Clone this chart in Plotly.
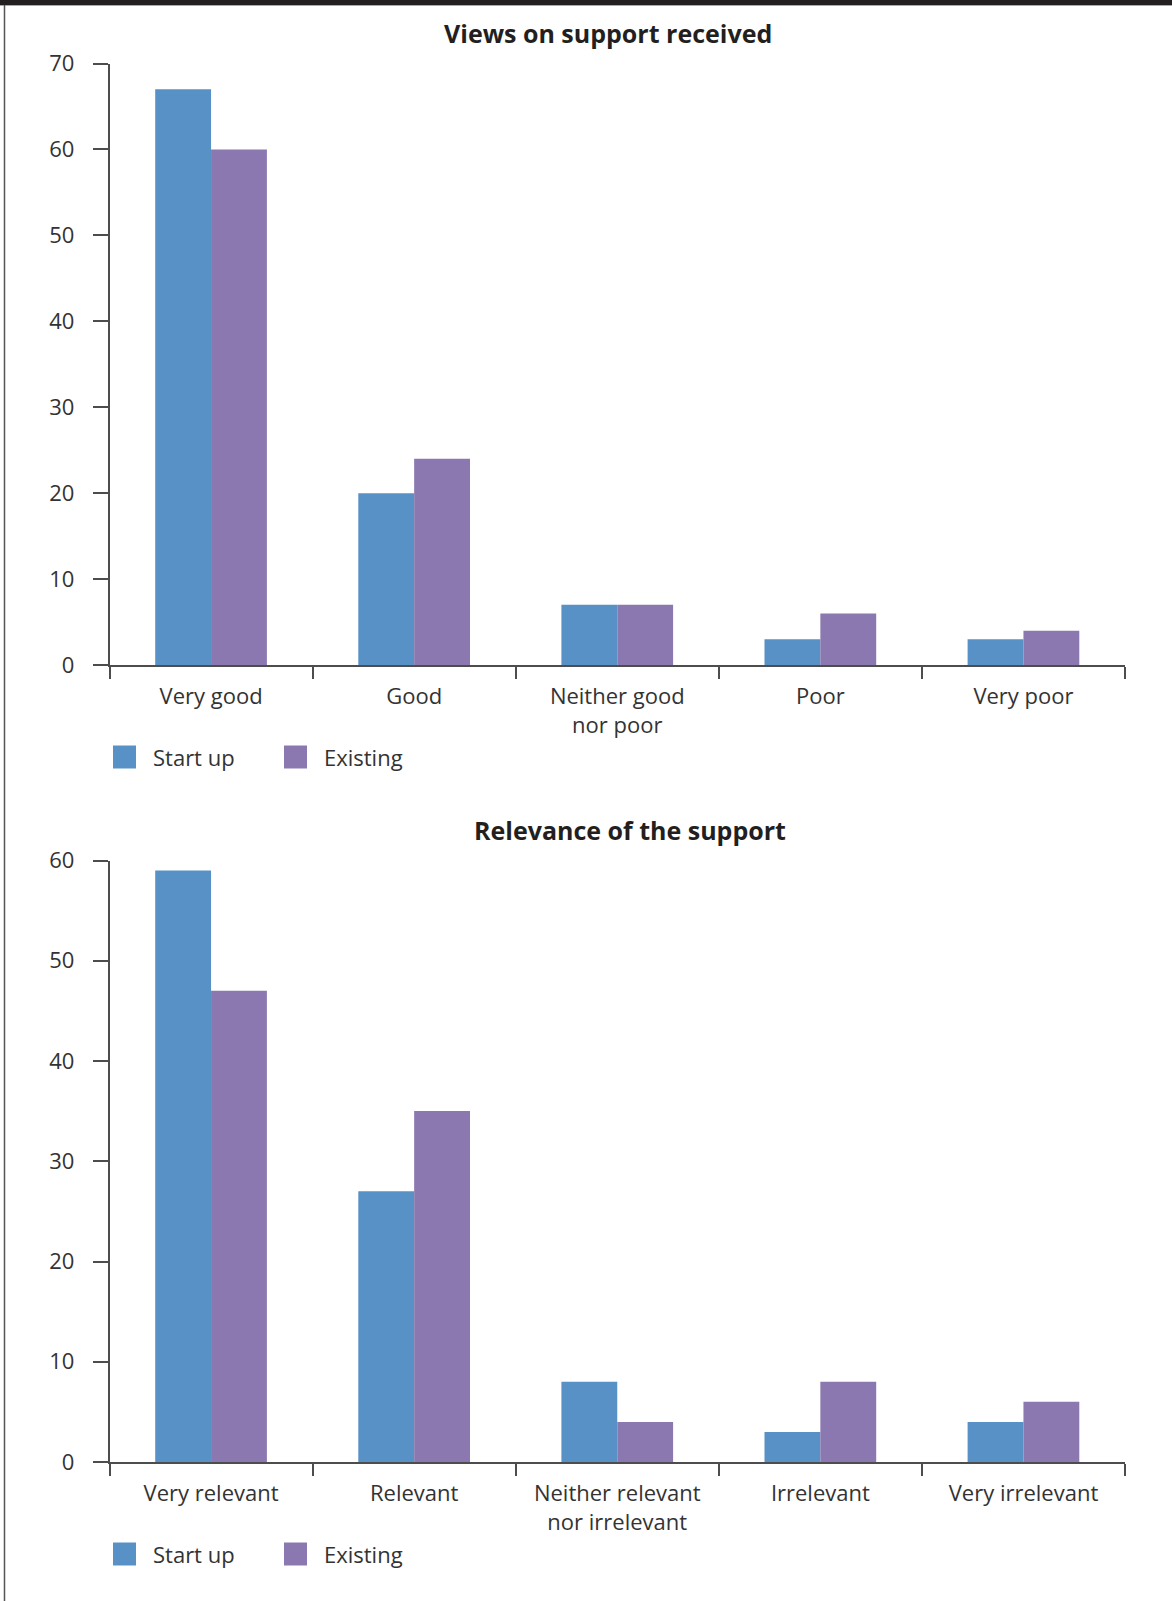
import plotly.graph_objects as go

W, H = 1172, 1601

series_names = ["Start up", "Existing"]
colors = ["#5891C6", "#8B78B0"]

title_top = "Views on support received"
cats_top = ["Very good", "Good", "Neither good<br>nor poor", "Poor", "Very poor"]
startup_top = [67, 20, 7, 3, 3]
existing_top = [60, 24, 7, 6, 4]

title_bot = "Relevance of the support"
cats_bot = ["Very relevant", "Relevant", "Neither relevant<br>nor irrelevant", "Irrelevant", "Very irrelevant"]
startup_bot = [59, 27, 8, 3, 4]
existing_bot = [47, 35, 4, 8, 6]


def px(x):
    return x / W


def py(y):
    return 1 - y / H


FONT = "Open Sans"
TXT = "#333333"
AX = "#4d4d4d"

fig = go.Figure()
for vals, name, col in zip([startup_top, existing_top], series_names, colors):
    fig.add_trace(go.Bar(x=cats_top, y=vals, name=name, marker_color=col,
                         marker_line_width=0, xaxis="x", yaxis="y", showlegend=False))
for vals, name, col in zip([startup_bot, existing_bot], series_names, colors):
    fig.add_trace(go.Bar(x=cats_bot, y=vals, name=name, marker_color=col,
                         marker_line_width=0, xaxis="x2", yaxis="y2", showlegend=False))

xcommon = dict(type="category", range=[-0.5, 4.5], showline=True, linecolor=AX, linewidth=1.5,
               ticks="outside", tickson="boundaries", ticklen=12, tickcolor=AX, tickwidth=1.5,
               showgrid=False, zeroline=False, tickfont=dict(family=FONT, size=22, color=TXT),
               ticklabelstandoff=11, fixedrange=True, automargin=False)
ycommon = dict(showline=True, linecolor=AX, linewidth=1.5, ticks="outside", ticklen=15,
               tickcolor=AX, tickwidth=1.5, showgrid=False, zeroline=False, dtick=10,
               tickfont=dict(family=FONT, size=22, color=TXT), ticklabelstandoff=14,
               fixedrange=True, automargin=False)

fig.update_layout(
    width=W, height=H, autosize=False,
    margin=dict(l=0, r=0, t=0, b=0, pad=0, autoexpand=False),
    paper_bgcolor="white", plot_bgcolor="white",
    barmode="group", bargap=0.45, bargroupgap=0,
    xaxis=dict(domain=[px(109.5), px(1125)], anchor="y", **xcommon),
    yaxis=dict(domain=[py(665), py(63.5)], range=[0, 70], anchor="x", **ycommon),
    xaxis2=dict(domain=[px(109.5), px(1125)], anchor="y2", **xcommon),
    yaxis2=dict(domain=[py(1462), py(860.5)], range=[0, 60], anchor="x2", **ycommon),
)

annotations = [
    dict(text="<b>" + title_top + "</b>", x=px(608), y=py(33), xref="paper", yref="paper",
         showarrow=False, xanchor="center", yanchor="middle",
         font=dict(family=FONT, size=25, color="#231f20")),
    dict(text="<b>" + title_bot + "</b>", x=px(630), y=py(830), xref="paper", yref="paper",
         showarrow=False, xanchor="center", yanchor="middle",
         font=dict(family=FONT, size=25, color="#231f20")),
]
shapes = [
    dict(type="rect", xref="paper", yref="paper", x0=0, x1=1, y0=py(5), y1=1,
         fillcolor="#231f20", line_width=0),
    dict(type="line", xref="paper", yref="paper", x0=0, x1=1, y0=py(5.5), y1=py(5.5),
         line=dict(color="#aaaaaa", width=1)),
    dict(type="line", xref="paper", yref="paper", x0=px(4.5), x1=px(4.5), y0=py(5), y1=0,
         line=dict(color="#555555", width=1.5)),
]

# Legends (one under each chart)
for ycen in [757, 1554]:
    for name, col, sx, tx in zip(series_names, colors, [113, 284], [151, 322]):
        shapes.append(dict(type="rect", xref="paper", yref="paper", x0=px(sx), x1=px(sx + 23),
                           y0=py(ycen + 11.5), y1=py(ycen - 11.5), fillcolor=col, line_width=0))
        annotations.append(dict(text=name, x=px(tx), y=py(ycen), xref="paper", yref="paper",
                                showarrow=False, xanchor="left", yanchor="middle",
                                font=dict(family=FONT, size=22, color=TXT)))

fig.update_layout(annotations=annotations, shapes=shapes)

post = ("document.documentElement.style.margin='0';document.body.style.margin='0';"
        "document.body.style.overflow='hidden';"
        "var d=document.getElementById('{plot_id}');d.style.position='absolute';"
        "d.style.left='0px';d.style.top='0px';")
fig.write_html("out.html", post_script=post, config={"displayModeBar": False})
